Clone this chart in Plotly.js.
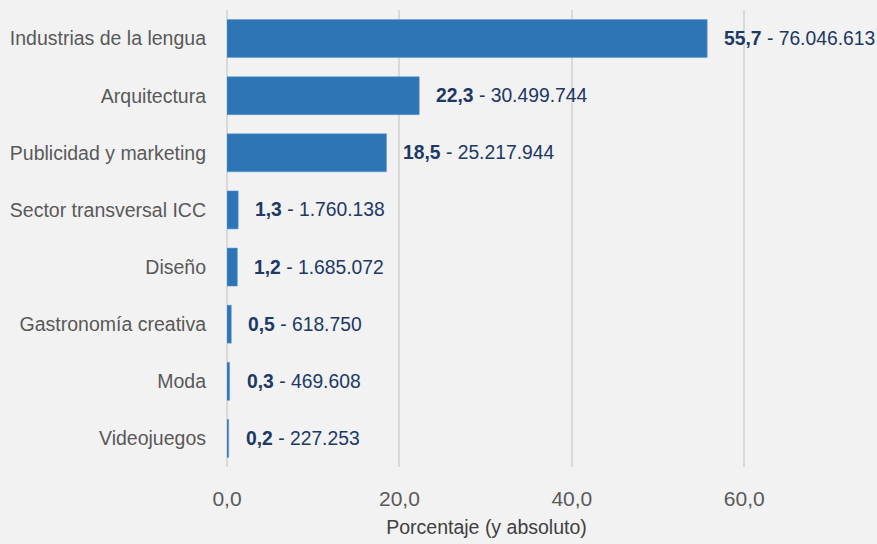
<!DOCTYPE html>
<html>
<head>
<meta charset="utf-8">
<script src="https://cdn.plot.ly/plotly-3.0.1.min.js"></script>
<style>html,body{margin:0;padding:0;background:#f2f2f2;}#chart{width:877px;height:544px;}</style>
</head>
<body>
<div id="chart"></div>
<script>
const categories = ["Industrias de la lengua", "Arquitectura", "Publicidad y marketing", "Sector transversal ICC", "Diseño", "Gastronomía creativa", "Moda", "Videojuegos"];
const percentages = [55.7, 22.3, 18.5, 1.3, 1.2, 0.5, 0.3, 0.2];
const absolutes = [76046613, 30499744, 25217944, 1760138, 1685072, 618750, 469608, 227253];
const tickValues = [0, 20, 40, 60];

function fmtPct(v) { return v.toFixed(1).replace('.', ','); }
function fmtAbs(n) { return String(n).replace(/\B(?=(\d{3})+(?!\d))/g, '.'); }

const FONT = "Liberation Sans, Arial, sans-serif";

const trace = {
  type: 'bar',
  orientation: 'h',
  x: percentages,
  y: categories,
  marker: { color: '#2e75b6', line: { color: '#5b9bd5', width: 0.5 } },
  hoverinfo: 'skip'
};

const annotations = categories.map((c, i) => ({
  x: percentages[i],
  y: c,
  xref: 'x',
  yref: 'y',
  text: '<b>' + fmtPct(percentages[i]) + '</b> - ' + fmtAbs(absolutes[i]),
  showarrow: false,
  xanchor: 'left',
  yanchor: 'middle',
  xshift: 15,
  font: { family: FONT, size: 19.3, color: '#203864' }
}));

const layout = {
  width: 877,
  height: 544,
  margin: { l: 227, r: 131, t: 10, b: 77, pad: 0 },
  paper_bgcolor: '#f2f2f2',
  plot_bgcolor: '#f2f2f2',
  separators: ',.',
  showlegend: false,
  bargap: 0.335,
  font: { family: FONT, color: '#595959' },
  xaxis: {
    range: [0, 60.2],
    tickvals: tickValues,
    ticktext: tickValues.map(fmtPct),
    showgrid: true,
    gridcolor: '#d9d9d9',
    gridwidth: 2,
    zeroline: true,
    zerolinecolor: '#d9d9d9',
    zerolinewidth: 2,
    showline: false,
    ticks: '',
    ticklabelstandoff: 17,
    tickfont: { family: FONT, size: 21, color: '#595959' },
    title: { text: 'Porcentaje (y absoluto)', font: { family: FONT, size: 19.5, color: '#404040' }, standoff: 11 },
    fixedrange: true
  },
  yaxis: {
    type: 'category',
    categoryorder: 'array',
    categoryarray: categories,
    autorange: 'reversed',
    showgrid: false,
    zeroline: false,
    showline: false,
    ticks: '',
    ticklabelstandoff: 20,
    tickfont: { family: FONT, size: 19.5, color: '#595959' },
    fixedrange: true
  },
  annotations: annotations
};

Plotly.newPlot('chart', [trace], layout, { staticPlot: true, displayModeBar: false });
</script>
</body>
</html>
